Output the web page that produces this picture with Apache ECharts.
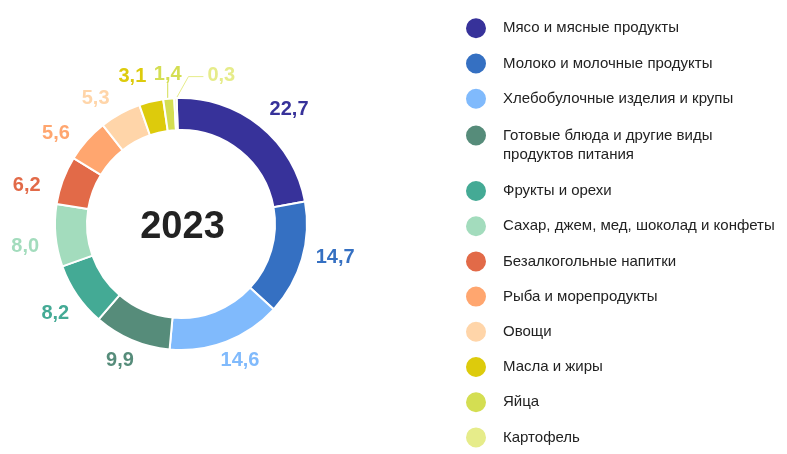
<!DOCTYPE html>
<html>
<head>
<meta charset="utf-8">
<script src="https://cdn.jsdelivr.net/npm/echarts@6/dist/echarts.min.js"></script>
<style>
html,body{margin:0;padding:0;background:#fff;}
#c{width:787px;height:454px;}
</style>
</head>
<body>
<div id="c"></div>
<script>
const categories = [
  'Мясо и мясные продукты',
  'Молоко и молочные продукты',
  'Хлебобулочные изделия и крупы',
  'Готовые блюда и другие виды продуктов питания',
  'Фрукты и орехи',
  'Сахар, джем, мед, шоколад и конфеты',
  'Безалкогольные напитки',
  'Рыба и морепродукты',
  'Овощи',
  'Масла и жиры',
  'Яйца',
  'Картофель'
];
const values = [22.7, 14.7, 14.6, 9.9, 8.2, 8.0, 6.2, 5.6, 5.3, 3.1, 1.4, 0.3];
const colors = ['#37329a', '#3570c2', '#80bafc', '#568c7a', '#44aa95', '#a3dcbd',
                '#e26a48', '#ffa66f', '#ffd5a9', '#ddcb0c', '#d4de52', '#e6ec8a'];
const yearLabel = '2023';

// label nudges (styling only)
const labelNudge = [[6, 3], [6, -15.5], [8, -11], [5, -4.5], [6, 6], [0, 13.5],
                    [-10, 20.5], [-12, 16.5], [-15, 13.5], [-17, 5.5], [0, 0], [0, 0]];

const fmt = v => v.toFixed(1).replace('.', ',');
const smallIdx = [10, 11];
const font = '"Liberation Sans", Arial, sans-serif';
const cx = 181, cy = 224;

const chart = echarts.init(document.getElementById('c'), null, {renderer: 'canvas'});

const mainData = categories.map((n, i) => ({
  name: n, value: values[i],
  itemStyle: {color: colors[i]},
  label: {show: smallIdx.includes(i), color: colors[i]},
  labelLine: {show: smallIdx.includes(i), lineStyle: {color: colors[i], width: 1}}
}));
const ringData = categories.map((n, i) => ({
  name: n, value: values[i],
  label: {show: !smallIdx.includes(i), color: colors[i], offset: labelNudge[i]}
}));

const legendText = {color: '#222', fontSize: 15, fontFamily: font, padding: [0, 0, 0, 11]};
const legendBase = {
  orient: 'vertical', left: 464, padding: 0,
  icon: 'circle', itemWidth: 22, itemHeight: 22, itemGap: 11.2,
  selectedMode: false, height: 300
};

chart.setOption({
  animation: false,
  color: colors,
  legend: [
    Object.assign({}, legendBase, {
      top: 16.3, data: categories.slice(0, 3), textStyle: legendText
    }),
    Object.assign({}, legendBase, {
      top: 107, data: [categories[3]],
      formatter: () => ' \nГотовые блюда и другие виды\nпродуктов питания',
      textStyle: Object.assign({}, legendText, {lineHeight: 19})
    }),
    Object.assign({}, legendBase, {
      top: 179, data: categories.slice(4), textStyle: legendText
    })
  ],
  graphic: [{
    type: 'text', x: cx + 1.5, y: cy + 3.5,
    style: {text: yearLabel, align: 'center', verticalAlign: 'middle',
            font: 'bold 38px ' + font, fill: '#222'}
  }],
  series: [
    {
      type: 'pie', name: 'main',
      center: [cx, cy], radius: [94, 126],
      startAngle: 92, clockwise: true,
      avoidLabelOverlap: false,
      itemStyle: {borderColor: '#fff', borderWidth: 2},
      label: {
        position: 'outside', formatter: p => fmt(p.value),
        fontSize: 20, fontWeight: 'bold', fontFamily: font
      },
      labelLine: {length: 16, length2: 0, smooth: false},
      labelLayout: function (params) {
        const pts = params.labelLinePoints;
        if (!pts) return {};
        const p0 = pts[0];
        if (params.dataIndex === 10) {
          const x = p0[0] - 1, top = p0[1] - 15.5;
          return {
            x: x, y: top + 1, align: 'center', verticalAlign: 'bottom',
            labelLinePoints: [[x, p0[1]], [x, top], [x, top]]
          };
        }
        if (params.dataIndex === 11) {
          const top = p0[1] - 21.5;
          return {
            x: p0[0] + 32, y: top - 1.5, align: 'left', verticalAlign: 'middle',
            labelLinePoints: [[p0[0] + 1, p0[1]], [p0[0] + 13, top], [p0[0] + 28, top]]
          };
        }
        return {};
      },
      emphasis: {disabled: true},
      data: mainData
    },
    {
      type: 'pie', name: 'labels', silent: true,
      center: [cx, cy], radius: [137, 169],
      startAngle: 90, clockwise: true,
      avoidLabelOverlap: false,
      itemStyle: {color: 'rgba(0,0,0,0)', borderWidth: 0},
      label: {
        position: 'inside', formatter: p => fmt(p.value),
        fontSize: 20, fontWeight: 'bold', fontFamily: font
      },
      labelLine: {show: false},
      emphasis: {disabled: true},
      data: ringData
    }
  ]
});
</script>
</body>
</html>
